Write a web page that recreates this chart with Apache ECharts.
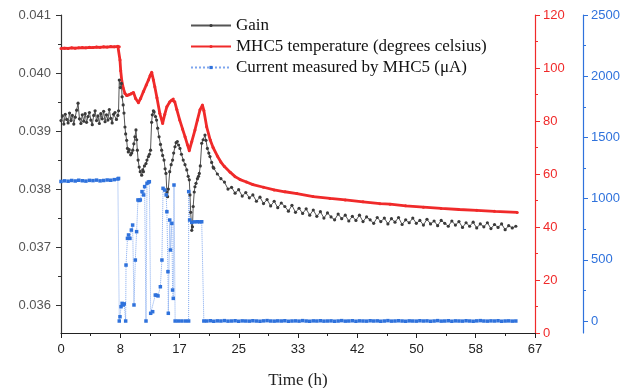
<!DOCTYPE html>
<html>
<head>
<meta charset="utf-8">
<script src="https://cdn.jsdelivr.net/npm/echarts@6/dist/echarts.min.js"></script>
<style>
  html, body { margin: 0; padding: 0; background: #fff; }
  #chart { width: 636px; height: 388px; }
</style>
</head>
<body>
<div id="chart"></div>
<script>
// --- data ---
// gain, steady part before heating stops (one sample every 0.2 h from 0 h)
var gainPre = [0.03918, 0.03926, 0.03912, 0.03929, 0.03920, 0.03914, 0.03931, 0.03918, 0.03927, 0.03912,
  0.03924, 0.03936, 0.03948, 0.03921, 0.03913, 0.03928, 0.03917, 0.03930, 0.03915, 0.03925,
  0.03932, 0.03919, 0.03911, 0.03927, 0.03935, 0.03918, 0.03926, 0.03913, 0.03930, 0.03921,
  0.03934, 0.03916, 0.03928, 0.03919, 0.03937, 0.03922, 0.03914, 0.03929, 0.03932, 0.03920, 0.03927];
// gain, transient 8 h - 21.4 h
var gainMidT = [8.1, 8.2, 8.35, 8.5, 8.6, 8.75, 8.86, 9.0, 9.1, 9.24, 9.35, 9.47, 9.6, 9.8, 9.95, 10.1, 10.25, 10.4, 10.55, 10.65,
  10.74, 10.85, 11.0, 11.15, 11.35, 11.5, 11.6, 11.75, 11.96, 12.1, 12.3, 12.45, 12.6, 12.75, 12.85, 13.0, 13.1, 13.3, 13.45, 13.6,
  13.8, 14.0, 14.16, 14.3, 14.5, 14.65, 14.77, 14.9, 15.0, 15.1, 15.3, 15.5, 15.7, 15.85, 16.04, 16.2, 16.37, 16.55, 16.74, 16.95,
  17.2, 17.45, 17.7, 17.9, 18.05, 18.15, 18.25, 18.4, 18.5, 18.6, 18.75, 18.85, 19.0, 19.2, 19.35, 19.46, 19.6, 19.8, 20.0, 20.26,
  20.4, 20.6, 20.8, 20.96, 21.2, 21.4];
var gainMid = [0.03935, 0.03988, 0.03975, 0.03982, 0.03959, 0.03945, 0.03931, 0.03907, 0.03895, 0.03884, 0.03870, 0.03864, 0.03868, 0.03859, 0.03862, 0.03867, 0.03878, 0.03890, 0.03902, 0.03885,
  0.03867, 0.03850, 0.03838, 0.03830, 0.03824, 0.03833, 0.03830, 0.03840, 0.03844, 0.03850, 0.03856, 0.03860, 0.03867, 0.03915, 0.03928, 0.03935, 0.03933, 0.03925, 0.03919, 0.03905,
  0.03890, 0.03877, 0.03867, 0.03858, 0.03850, 0.03835, 0.03827, 0.03795, 0.03787, 0.03800, 0.03830, 0.03842, 0.03850, 0.03862, 0.03873, 0.03880, 0.03882, 0.03876, 0.03870, 0.03860,
  0.03850, 0.03842, 0.03833, 0.03822, 0.03816, 0.03790, 0.03760, 0.03729, 0.03735, 0.03770, 0.03795, 0.03804, 0.03810, 0.03818, 0.03822, 0.03827, 0.03840, 0.03879, 0.03885, 0.03893,
  0.03884, 0.03870, 0.03862, 0.03856, 0.03846, 0.03838];
// gain, slow decay (one sample every 0.5 h from 21.5 h)
var gainTail = [0.03836, 0.03826, 0.03818, 0.03812, 0.03800, 0.03803, 0.03793, 0.03799, 0.03788, 0.03794,
  0.03785, 0.03790, 0.03779, 0.03786, 0.03775, 0.03782, 0.03771, 0.03779, 0.03768, 0.03776,
  0.03770, 0.03762, 0.03772, 0.03760, 0.03767, 0.03758, 0.03766, 0.03755, 0.03764, 0.03753,
  0.03761, 0.03750, 0.03759, 0.03752, 0.03747, 0.03757, 0.03749, 0.03755, 0.03745, 0.03753,
  0.03746, 0.03755, 0.03744, 0.03752, 0.03747, 0.03741, 0.03751, 0.03744, 0.03750, 0.03740,
  0.03749, 0.03743, 0.03751, 0.03739, 0.03747, 0.03742, 0.03750, 0.03741, 0.03746, 0.03738,
  0.03748, 0.03740, 0.03745, 0.03737, 0.03746, 0.03741, 0.03736, 0.03745, 0.03738, 0.03744,
  0.03734, 0.03742, 0.03736, 0.03743, 0.03733, 0.03740, 0.03735, 0.03742, 0.03732, 0.03739,
  0.03734, 0.03740, 0.03730, 0.03737, 0.03733, 0.03736];

// MHC5 temperature (degrees celsius)
var tempPre = [107.4, 107.5, 107.4, 107.6, 107.5, 107.6, 107.7, 107.6, 107.8, 107.7, 107.9, 107.8, 108.0, 107.9, 108.1, 108.0, 108.2]; // every 0.5 h
var tempT = [8.2, 8.3, 8.4, 8.54, 8.75, 9.0, 9.25, 9.5, 9.8, 10.2, 10.5, 10.9, 11.2, 11.6, 12.0, 12.3, 12.55, 12.76, 13.0, 13.2,
  13.5, 13.9, 14.3, 14.6, 14.9, 15.3, 15.6, 15.8, 16.0, 16.3, 16.7, 17.1, 17.45, 17.8, 18.05, 18.4, 18.85, 19.2, 19.56, 19.9,
  20.1, 20.5, 21.0, 21.4, 22.0, 22.5, 23.0, 23.8, 24.5, 25.2, 26.1, 27.0, 28.5, 30.0, 31.5, 33.2, 35.5, 37.85, 40.0, 42.5,
  44.9, 46.3, 48.5, 51.0, 53.5, 56.0, 58.5, 61.0, 64.2];
var temp = [108.0, 103.0, 99.0, 95.5, 92.5, 90.4, 89.6, 89.8, 90.2, 90.8, 88.5, 86.9, 88.5, 91.1, 93.6, 95.5, 97.2, 98.4, 95.5, 92.9,
  88.8, 82.9, 79.1, 82.5, 85.4, 87.2, 87.9, 88.3, 87.3, 84.3, 80.4, 77.0, 74.1, 71.0, 68.8, 72.2, 76.6, 80.4, 84.2, 86.0,
  84.0, 77.8, 72.8, 70.0, 66.8, 64.5, 62.8, 60.7, 59.0, 57.9, 57.0, 56.0, 55.0, 54.0, 53.3, 52.6, 51.5, 50.8, 50.2, 49.5,
  48.8, 48.6, 48.0, 47.5, 47.0, 46.6, 46.3, 45.9, 45.5];

// current measured by MHC5 (uA)
var curPre = [1140, 1145, 1142, 1148, 1144, 1150, 1146, 1143, 1149, 1147, 1151, 1145, 1148, 1152, 1150, 1155, 1160]; // every 0.5 h
var curT = [8.1, 8.2, 8.3, 8.45, 8.6, 8.75, 8.9, 9.1, 9.15, 9.35, 9.5, 9.7, 9.9, 10.08, 10.27, 10.46, 10.64, 10.83, 11.0, 11.16,
  11.4, 11.63, 11.77, 11.96, 12.1, 12.3, 12.43, 12.62, 12.9, 13.27, 13.45, 13.65, 13.98, 14.2, 14.36, 14.6, 14.8, 14.9, 15.05, 15.1,
  15.3, 15.4, 15.6, 15.7, 15.8, 15.9, 16.06, 16.5, 17.0, 17.5, 17.96, 17.97, 18.1, 18.4, 18.8, 19.2, 19.5, 19.8, 20.1];
var cur = [1165, 0, 35, 117, 144, 131, 140, 0, 457, 675, 703, 675, 743, 784, 131, 498, 730, 989, 985, 989,
  1057, 1030, 1098, 0, 1125, 1135, 1138, 63, 76, 212, 210, 205, 280, 498, 1084, 1070, 1030, 893, 403, 63,
  825, 580, 798, 253, 185, 1111, 0, 0, 0, 0, 0, 1057, 825, 806, 810, 811, 810, 811, 0];
var curTail = [0, 2, -2, 1, 0, 3, -1, 0, 2, -2, 1, 0, -1, 2, 0, -2, 1, 3, 0, -1, 1, 0, 2, -2, 0, 1, -1, 3, 0, -2,
  1, 0, 2, -1, 0, 1, -2, 0, 3, -1, 0, 2, -2, 1, 0, -1, 2, 0, 1, -2, 0, 3, -1, 0, 2, 0, -2, 1, 0, -1,
  2, 0, 1, -2, 0, 3, -1, 0, 2, -2, 1, 0, -1, 2, 0, -2, 1, 3, 0, -1, 1, 0, 2, -2, 0, 1, -1, 0]; // every 0.5 h from 20.5 h

var gainLabels = [0.036, 0.037, 0.038, 0.039, 0.040, 0.041];
var gainMinor = [0.0355, 0.0365, 0.0375, 0.0385, 0.0395, 0.0405];
var curLabels = [0, 500, 1000, 1500, 2000, 2500];
var curMinor = [250, 750, 1250, 1750, 2250];

// --- helpers ---
function grid(start, step, n) {
  var out = [];
  for (var i = 0; i < n; i++) out.push(+(start + i * step).toFixed(3));
  return out;
}
function pairs(ts, vs) {
  return ts.map(function (t, i) { return [t, vs[i]]; });
}

var gainData = pairs(grid(0, 0.2, gainPre.length), gainPre)
  .concat(pairs(gainMidT, gainMid))
  .concat(pairs(grid(21.5, 0.5, gainTail.length), gainTail));
var tempData = pairs(grid(0, 0.5, tempPre.length), tempPre).concat(pairs(tempT, temp));
var curData = pairs(grid(0, 0.5, curPre.length), curPre)
  .concat(pairs(curT, cur))
  .concat(pairs(grid(20.5, 0.5, curTail.length), curTail));

var sans = 'Liberation Sans';
var serif = 'Liberation Serif';
var RED = '#f02a2a';
var BLUE = '#2f72dc';

var chart = echarts.init(document.getElementById('chart'));
var option = {
  animation: false,
  grid: { left: 61, right: 101, top: 15, bottom: 55, containLabel: false, outerBoundsMode: 'none' },
  legend: {
    orient: 'vertical',
    left: 185,
    top: 12,
    itemWidth: 40,
    itemHeight: 4,
    itemGap: 4,
    textStyle: { fontFamily: serif, fontSize: 17, color: '#111', lineHeight: 17 },
    data: ['Gain', 'MHC5 temperature (degrees celsius)', 'Current measured by MHC5 (\u03bcA)']
  },
  xAxis: {
    type: 'value',
    min: 0,
    max: 66.7,
    interval: 66.7 / 8,
    name: 'Time (h)',
    nameLocation: 'middle',
    nameGap: 39,
    nameTextStyle: { fontFamily: serif, fontSize: 17, color: '#222' },
    axisLine: { lineStyle: { color: '#222', width: 1.2 } },
    axisTick: { length: 5, lineStyle: { color: '#222' } },
    minorTick: { show: true, splitNumber: 2, length: 3, lineStyle: { color: '#222' } },
    axisLabel: {
      fontFamily: sans, fontSize: 13, color: '#222', margin: 10,
      formatter: function (v) { return Math.round(v); }
    },
    splitLine: { show: false }
  },
  yAxis: [
    {
      type: 'value', position: 'left', min: 0.03552, max: 0.041,
      axisLine: { show: true, lineStyle: { color: '#333', width: 1.2 } },
      axisTick: { show: true, length: 5, customValues: gainLabels, lineStyle: { color: '#333' } },
      axisLabel: {
        customValues: gainLabels, fontFamily: sans, fontSize: 13, color: '#555', margin: 10,
        formatter: function (v) { return v.toFixed(3); }
      },
      splitLine: { show: false }
    },
    {
      type: 'value', position: 'left', min: 0.03552, max: 0.041,
      axisLine: { show: false },
      axisTick: { show: true, length: 3, customValues: gainMinor, lineStyle: { color: '#333' } },
      axisLabel: { show: false },
      splitLine: { show: false }
    },
    {
      type: 'value', position: 'right', min: 0, max: 120, interval: 20,
      axisLine: { show: true, lineStyle: { color: RED, width: 1.2 } },
      axisTick: { show: true, length: 5, lineStyle: { color: RED } },
      minorTick: { show: true, splitNumber: 2, length: 3, lineStyle: { color: RED } },
      axisLabel: { fontFamily: sans, fontSize: 13, color: RED, margin: 8 },
      splitLine: { show: false }
    },
    {
      type: 'value', position: 'right', offset: 48, min: -98, max: 2500,
      axisLine: { show: true, lineStyle: { color: BLUE, width: 1.2 } },
      axisTick: { show: true, length: 5, customValues: curLabels, lineStyle: { color: BLUE } },
      axisLabel: {
        customValues: curLabels, fontFamily: sans, fontSize: 13, color: BLUE, margin: 8,
        formatter: function (v) { return String(v); }
      },
      splitLine: { show: false }
    },
    {
      type: 'value', position: 'right', offset: 48, min: -98, max: 2500,
      axisLine: { show: false },
      axisTick: { show: true, length: 3, customValues: curMinor, lineStyle: { color: BLUE } },
      axisLabel: { show: false },
      splitLine: { show: false }
    }
  ],
  series: [
    {
      name: 'MHC5 temperature (degrees celsius)',
      type: 'line', yAxisIndex: 2, data: tempData,
      symbol: 'circle', symbolSize: 3,
      itemStyle: { color: RED },
      lineStyle: { color: RED, width: 2.8 }
    },
    {
      name: 'Gain',
      type: 'line', yAxisIndex: 0, data: gainData,
      symbol: 'circle', symbolSize: 3.2,
      itemStyle: { color: '#3a3a3a' },
      lineStyle: { color: '#555', width: 1 }
    },
    {
      name: 'Current measured by MHC5 (\u03bcA)',
      type: 'line', yAxisIndex: 3, data: curData,
      symbol: 'rect', symbolSize: 3.5,
      itemStyle: { color: BLUE },
      lineStyle: { color: '#7ea6ee', width: 1, type: 'dotted' }
    }
  ]
};
chart.setOption(option);
</script>
</body>
</html>
